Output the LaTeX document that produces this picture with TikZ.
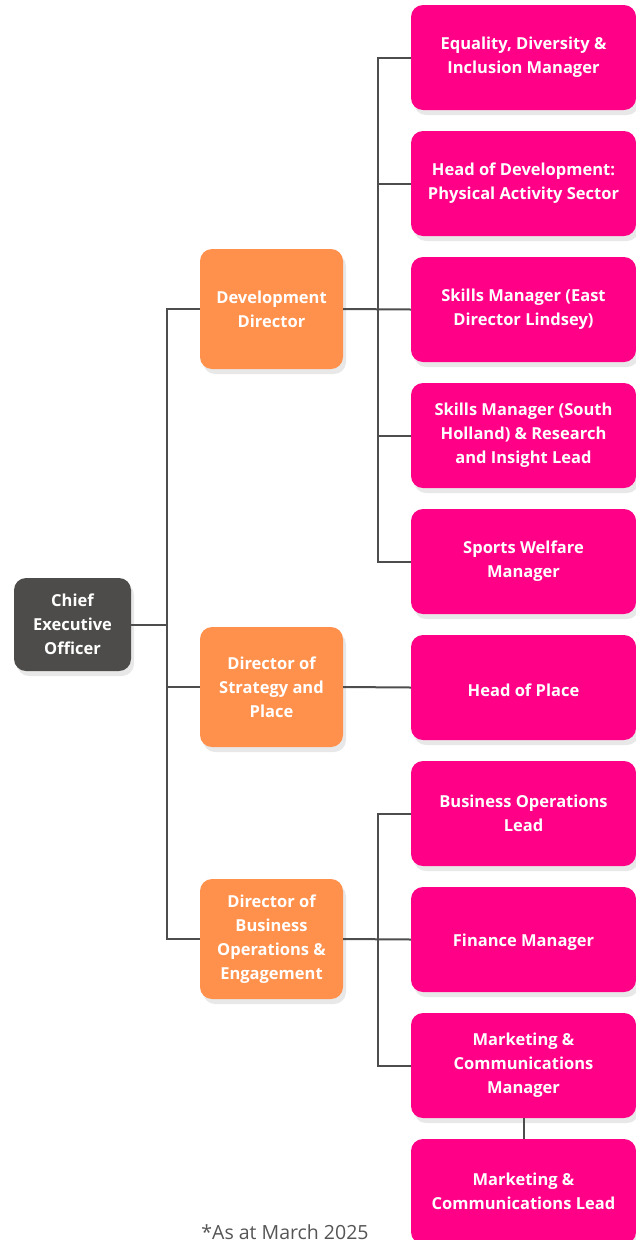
\documentclass[tikz,border=0pt]{standalone}
\usepackage{fontspec}
\setmainfont{Open Sans}
\usetikzlibrary{shadows}
\definecolor{ceogrey}{HTML}{4D4C4A}
\definecolor{dirorange}{HTML}{FF914D}
\definecolor{rolepink}{HTML}{FF0087}
\definecolor{linegrey}{HTML}{4D4D4D}
\definecolor{notegrey}{HTML}{555555}
\newcommand{\boxfont}{\bfseries\fontsize{16.5}{24}\selectfont\rule{0pt}{18.5pt}}
\tikzset{box/.style = {shape=rectangle, rounded corners=12pt, text=white, align=center, inner sep=0pt,
  font=\boxfont, drop shadow={shadow xshift=3pt, shadow yshift=-5pt, opacity=0.18}}}
\tikzset{ceobox/.style = {box, fill=ceogrey, minimum width=117pt, minimum height=93pt}}
\tikzset{dirbox/.style = {box, fill=dirorange, minimum width=143pt, minimum height=120pt}}
\tikzset{rolebox/.style = {box, fill=rolepink, minimum width=225pt, minimum height=105pt}}
\tikzset{link/.style = {draw=linegrey, line width=2pt}}

\begin{document}
\begin{tikzpicture}[x=1pt, y=-1pt]
  \useasboundingbox (0,0) rectangle (635,1240);

  \node[ceobox] (ceo) at (72.5, 624.5) {Chief\\Executive\\Officer};

  \node[dirbox] (dev) at (271.5, 309) {Development\\Director};
  \node[dirbox] (strat) at (271.5, 687) {Director of\\Strategy and\\Place};
  \node[dirbox] (bus) at (271.5, 939) {Director of\\Business\\Operations \&\\Engagement};

  \node[rolebox] (edi) at (523.5, 57.5) {Equality, Diversity \&\\Inclusion Manager};
  \node[rolebox] (hod) at (523.5, 183.5) {Head of Development:\\Physical Activity Sector};
  \node[rolebox] (ske) at (523.5, 309.5) {Skills Manager (East\\Director Lindsey)};
  \node[rolebox] (sks) at (523.5, 435.5) {Skills Manager (South\\Holland) \& Research\\and Insight Lead};
  \node[rolebox] (swm) at (523.5, 561.5) {Sports Welfare\\Manager};
  \node[rolebox] (hop) at (523.5, 687.5) {Head of Place};
  \node[rolebox] (bol) at (523.5, 813.5) {Business Operations\\Lead};
  \node[rolebox] (fin) at (523.5, 939.5) {Finance Manager};
  \node[rolebox] (mcm) at (523.5, 1065.5) {Marketing \&\\Communications\\Manager};
  \node[rolebox] (mcl) at (523.5, 1191.5) {Marketing \&\\Communications Lead};

  \node[text=notegrey, font=\fontsize{19.5}{22}\selectfont] (note) at (285, 1232) {*As at March 2025};

  \coordinate (trunk) at (167, 624.5);
  \coordinate (devbus) at (378, 309.5);
  \coordinate (busbus) at (378, 939.5);

  % CEO to directors
  \draw[link] (ceo.east) -- (trunk);
  \draw[link] (dev.west) -| (trunk) |- (bus.west);
  \draw[link] (strat.west) -- (strat.west -| trunk);

  % development team
  \draw[link] (dev.east) -- (ske.west);
  \draw[link] (edi.west) -| (devbus) |- (swm.west);
  \draw[link] (hod.west) -- (hod.west -| devbus);
  \draw[link] (sks.west) -- (sks.west -| devbus);

  % strategy and place
  \draw[link] (strat.east) -- (hop.west);

  % business operations team
  \draw[link] (bus.east) -- (fin.west);
  \draw[link] (bol.west) -| (busbus) |- (mcm.west);
  \draw[link] (mcm.south) -- (mcl.north);
\end{tikzpicture}
\end{document}
